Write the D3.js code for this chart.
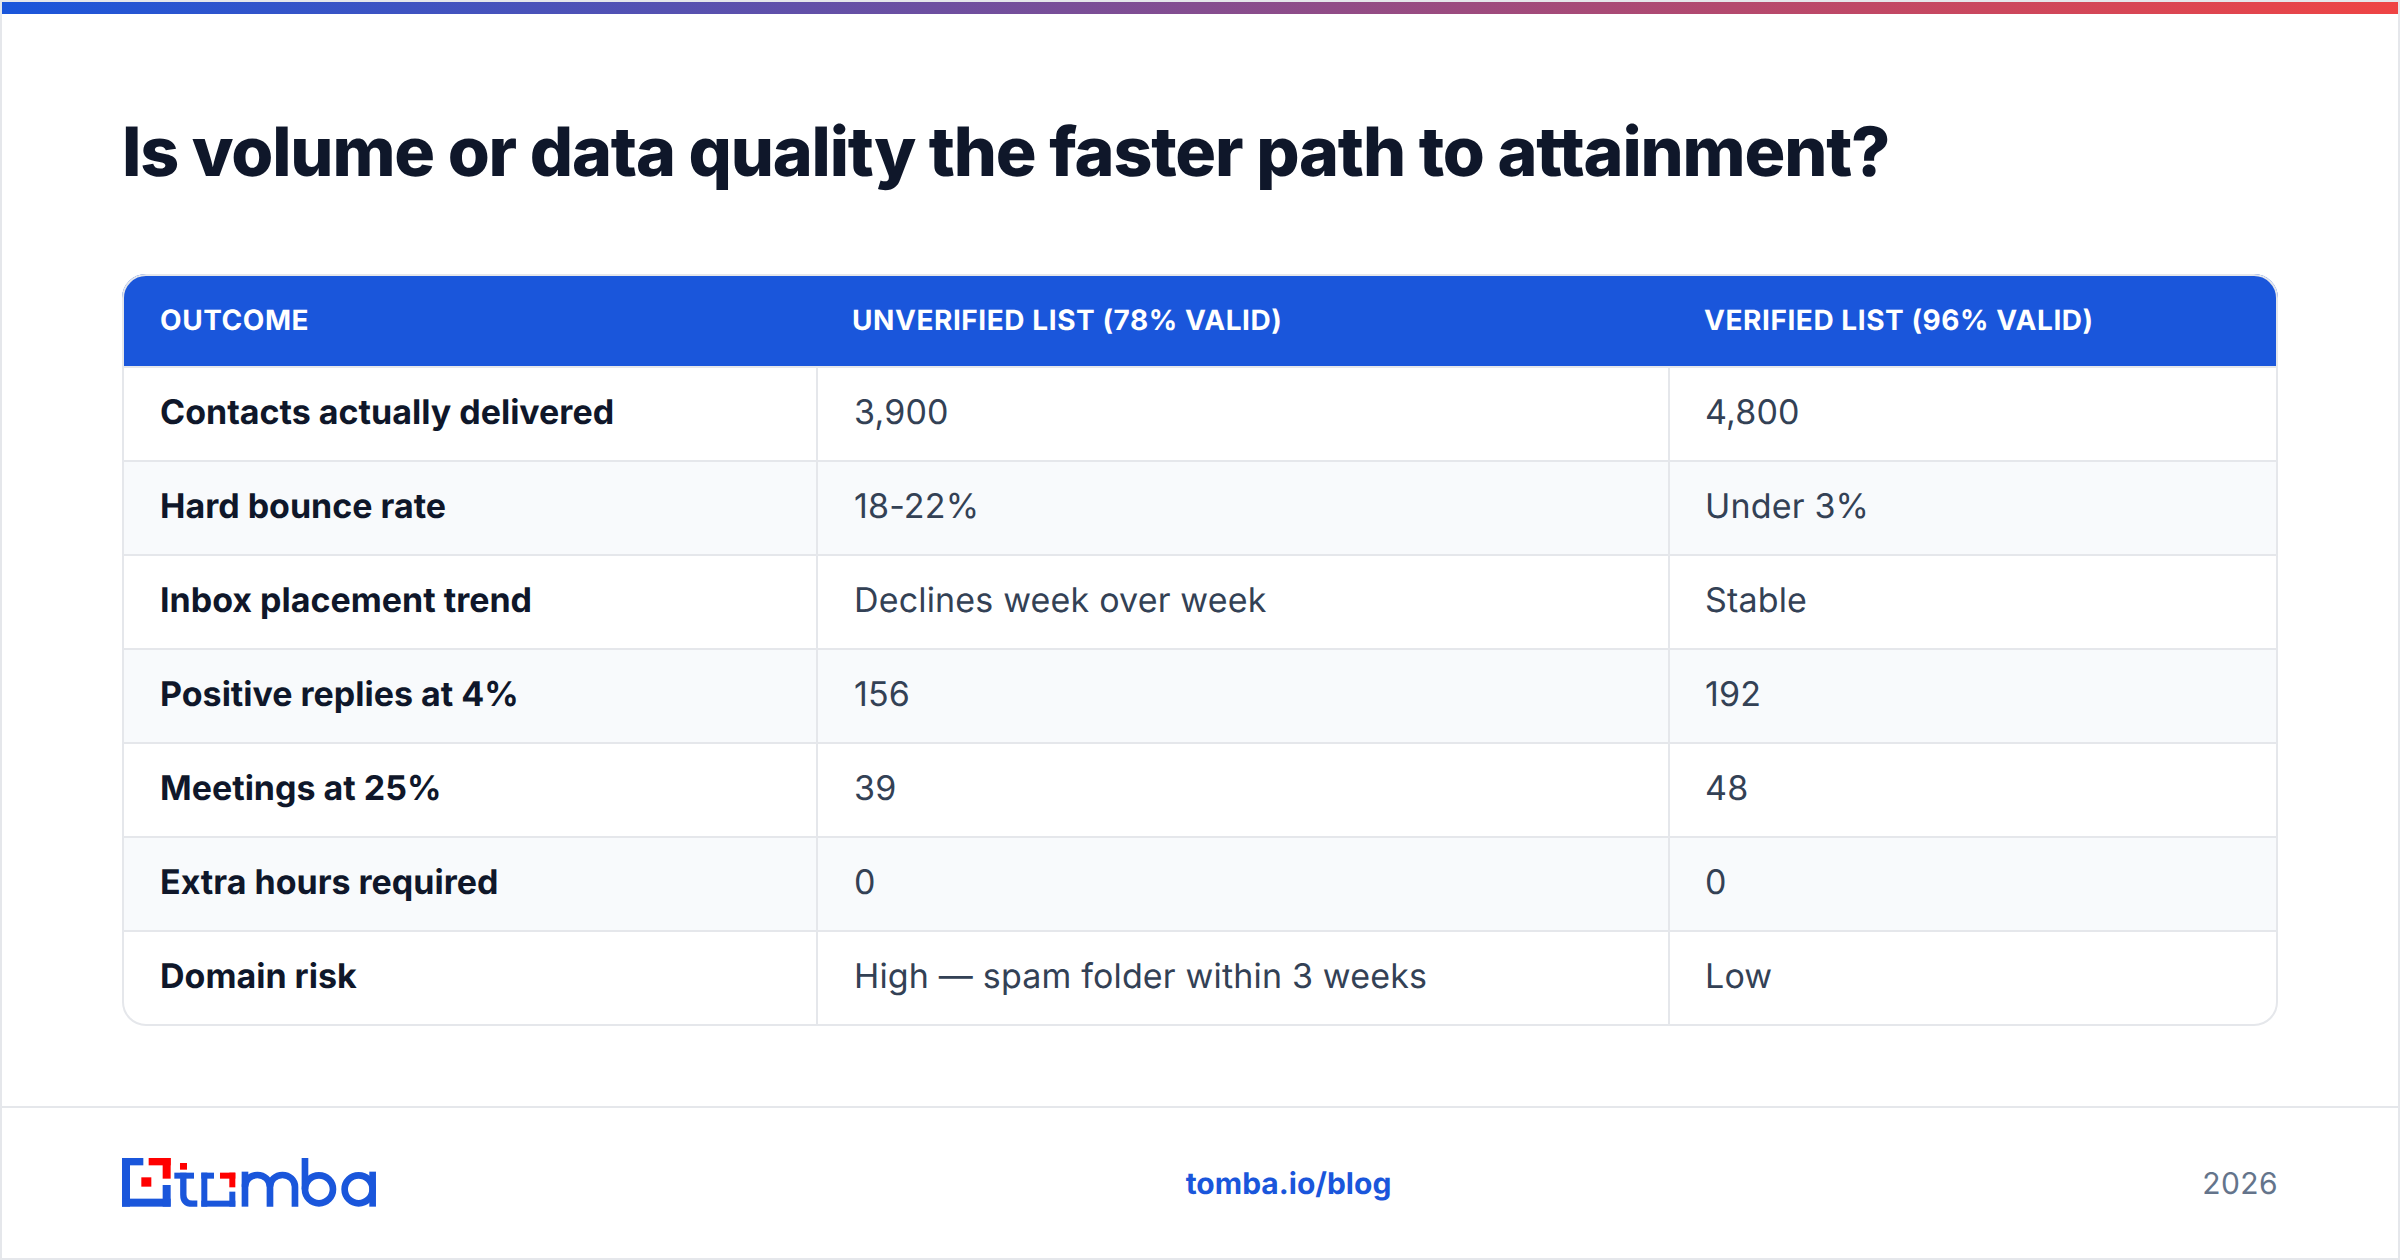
<!DOCTYPE html>
<html lang="en">
<head>
<meta charset="UTF-8">
<title>Is volume or data quality the faster path to attainment?</title>
<style>
  html, body { margin: 0; padding: 0; background: #fff; }
  svg { display: block; }
  text { font-family: Inter, "Noto Sans", sans-serif; text-rendering: geometricPrecision; }
</style>
</head>
<body>
<svg id="chart" width="2400" height="1260"></svg>
<script src="https://d3js.org/d3.v7.min.js"></script>
<script>
// table content
var title = "Is volume or data quality the faster path to attainment?";
var columns = ["OUTCOME", "UNVERIFIED LIST (78% VALID)", "VERIFIED LIST (96% VALID)"];
var outcomes = ["Contacts actually delivered", "Hard bounce rate", "Inbox placement trend",
                "Positive replies at 4%", "Meetings at 25%", "Extra hours required", "Domain risk"];
var unverified = ["3,900", "18-22%", "Declines week over week", "156", "39", "0", "High \u2014 spam folder within 3 weeks"];
var verified = ["4,800", "Under 3%", "Stable", "192", "48", "0", "Low"];
var footerLink = "tomba.io/blog";
var footerYear = "2026";

var WIDTH = 2400, HEIGHT = 1260;
var BLUE = "#1a56db", RED = "#ef4444", LINE = "#e5e7eb", INK = "#0f172a", BODY = "#334155";

var TABLE_X0 = 122, TABLE_X1 = 2278;
var TABLE_Y0 = 274, HEADER_H = 93, ROWS_Y1 = 1025, TABLE_Y1 = 1026;
var COL_EDGES = [TABLE_X0, 816, 1668, TABLE_X1];

var svg = d3.select("#chart");
var defs = svg.append("defs");

var grad = defs.append("linearGradient").attr("id", "topbar");
grad.append("stop").attr("offset", "0%").attr("stop-color", BLUE);
grad.append("stop").attr("offset", "100%").attr("stop-color", RED);

defs.append("clipPath").attr("id", "tableClip").append("rect")
    .attr("x", TABLE_X0).attr("y", TABLE_Y0)
    .attr("width", TABLE_X1 - TABLE_X0).attr("height", TABLE_Y1 - TABLE_Y0)
    .attr("rx", 24);

// card frame and top bar
svg.append("rect").attr("width", WIDTH).attr("height", HEIGHT).attr("fill", "#fff");
svg.append("rect").attr("x", 1).attr("y", 1).attr("width", WIDTH - 2).attr("height", HEIGHT - 2)
    .attr("fill", "none").attr("stroke", LINE).attr("stroke-width", 2);
svg.append("rect").attr("x", 2).attr("y", 2).attr("width", WIDTH - 4).attr("height", 12)
    .attr("fill", "url(#topbar)");

svg.append("text").attr("x", 122).attr("y", 176)
    .attr("font-size", 68).attr("font-weight", 800).attr("letter-spacing", -1.16)
    .attr("fill", INK).text(title);

// scales
var x = d3.scaleOrdinal().domain(d3.range(columns.length)).range(COL_EDGES.slice(0, 3));
var y = d3.scaleBand().domain(outcomes).range([TABLE_Y0 + HEADER_H, ROWS_Y1]);

var rows = outcomes.map(function(d, i) { return { name: d, cells: [d, unverified[i], verified[i]] }; });

var table = svg.append("g").attr("clip-path", "url(#tableClip)");

table.selectAll(".stripe").data(rows).enter().append("rect")
    .attr("class", "stripe")
    .attr("x", TABLE_X0).attr("width", TABLE_X1 - TABLE_X0)
    .attr("y", function(d) { return y(d.name); })
    .attr("height", y.bandwidth())
    .attr("fill", function(d, i) { return i % 2 ? "#f8fafc" : "#fff"; });

// row rules
table.selectAll(".rowline").data(rows.slice(0, -1)).enter().append("rect")
    .attr("class", "rowline")
    .attr("x", TABLE_X0).attr("width", TABLE_X1 - TABLE_X0)
    .attr("y", function(d) { return y(d.name) + y.bandwidth() - 1; })
    .attr("height", 2).attr("fill", LINE);

// column rules
table.selectAll(".colline").data([1, 2]).enter().append("rect")
    .attr("class", "colline")
    .attr("x", function(d) { return x(d); }).attr("width", 2)
    .attr("y", TABLE_Y0 + HEADER_H).attr("height", TABLE_Y1 - TABLE_Y0 - HEADER_H)
    .attr("fill", LINE);

table.append("rect").attr("x", TABLE_X0).attr("y", TABLE_Y0)
    .attr("width", TABLE_X1 - TABLE_X0).attr("height", HEADER_H - 1).attr("fill", BLUE);
table.append("rect").attr("x", TABLE_X0).attr("y", TABLE_Y0 + HEADER_H - 1)
    .attr("width", TABLE_X1 - TABLE_X0).attr("height", 2).attr("fill", LINE);

svg.append("rect").attr("x", TABLE_X0 + 1).attr("y", TABLE_Y0 + 1)
    .attr("width", TABLE_X1 - TABLE_X0 - 2).attr("height", TABLE_Y1 - TABLE_Y0 - 2)
    .attr("rx", 23).attr("fill", "none").attr("stroke", LINE).attr("stroke-width", 2);

// header labels
svg.selectAll(".colhead").data(columns).enter().append("text")
    .attr("class", "colhead")
    .attr("x", function(d, i) { return x(i) + 38 - (i ? 2 : 0); })
    .attr("y", TABLE_Y0 + 46).attr("dy", "0.36em")
    .attr("font-size", 28).attr("font-weight", 700).attr("letter-spacing", 0.56)
    .attr("fill", "#fff").text(function(d) { return d; });

// body cells
var rowG = svg.selectAll(".row").data(rows).enter().append("g").attr("class", "row")
    .attr("transform", function(d) { return "translate(0," + (y(d.name) + y.bandwidth() / 2 - 2.2) + ")"; });
rowG.selectAll("text").data(function(d) { return d.cells; }).enter().append("text")
    .attr("x", function(d, i) { return x(i) + (i === 2 ? 37 : 38); })
    .attr("dy", "0.36em")
    .attr("font-size", 34)
    .attr("font-weight", function(d, i) { return i ? 400 : 700; })
    .attr("letter-spacing", function(d, i) { return i ? 0.17 : 0; })
    .attr("fill", function(d, i) { return i ? BODY : INK; })
    .text(function(d) { return d; });

// footer
svg.append("rect").attr("x", 2).attr("y", 1106).attr("width", WIDTH - 4).attr("height", 2).attr("fill", LINE);
svg.append("text").attr("x", 1288.5).attr("y", 1183).attr("dy", "0.36em").attr("text-anchor", "middle")
    .attr("font-size", 30).attr("font-weight", 700).attr("fill", BLUE).text(footerLink);
svg.append("text").attr("x", 2278).attr("y", 1183).attr("dy", "0.36em").attr("text-anchor", "end")
    .attr("font-size", 30).attr("letter-spacing", 0.4).attr("fill", "#64748b").text(footerYear);

// logo
var logo = svg.append("g").attr("transform", "translate(80,1130) scale(0.3333)");
function blocks(list, fill) {
    logo.selectAll(null).data(list).enter().append("rect")
        .attr("x", function(d) { return d[0]; }).attr("y", function(d) { return d[1]; })
        .attr("width", function(d) { return d[2]; }).attr("height", function(d) { return d[3]; })
        .attr("fill", fill);
}
blocks([[126, 84, 64, 22], [126, 84, 24, 146], [126, 206, 146, 24], [248, 165, 24, 65],
        [364, 128, 38, 18], [364, 128, 18, 102], [364, 212, 102, 18], [448, 185, 18, 45]], BLUE);
blocks([[206, 84, 66, 22], [248, 84, 24, 62], [184, 142, 30, 28], [300, 99, 21, 20],
        [420, 128, 46, 18], [448, 128, 18, 44]], "#ff0000");
var strokes = [
    ["M283 137H342", 18], ["M310 128V194Q310 221 337 221H352", 19],
    ["M495 230V125", 20],
    ["M495 170A37.5 35 0 0 1 570 170V230", 20], ["M570 170A37.5 35 0 0 1 645 170V230", 20],
    ["M675 84V178", 20], ["M878 125V230", 20]
];
logo.selectAll(null).data(strokes).enter().append("path")
    .attr("d", function(d) { return d[0]; })
    .attr("fill", "none").attr("stroke", BLUE).attr("stroke-width", function(d) { return d[1]; });
logo.selectAll(null).data([[717, 178], [836, 178]]).enter().append("circle")
    .attr("cx", function(d) { return d[0]; }).attr("cy", function(d) { return d[1]; }).attr("r", 42)
    .attr("fill", "none").attr("stroke", BLUE).attr("stroke-width", 20);
</script>
</body>
</html>
